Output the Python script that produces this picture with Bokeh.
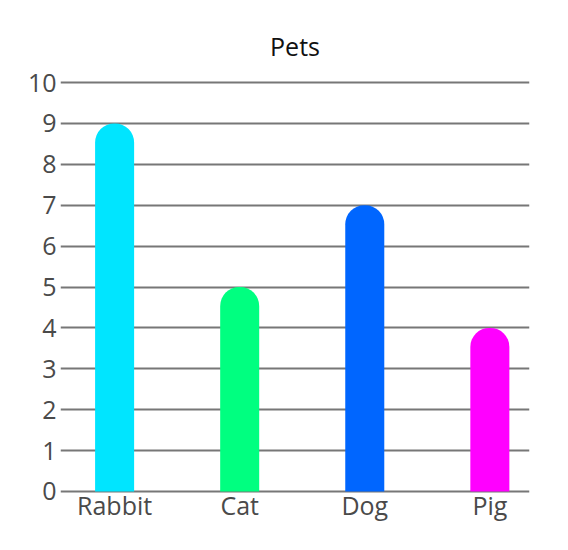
from bokeh.plotting import figure
from bokeh.models import Range1d, FixedTicker, ColumnDataSource
from bokeh.embed import file_html
from bokeh.resources import INLINE

pets = ["Rabbit", "Cat", "Dog", "Pig"]
counts = [9, 5, 7, 4]
colors = ["#00E5FF", "#00FF80", "#0066FF", "#FF00FF"]
y_ticks = [0, 1, 2, 3, 4, 5, 6, 7, 8, 9, 10]

xs = list(range(len(pets)))
src = ColumnDataSource(dict(x=xs, top=counts, color=colors, name=pets))

FONT = "Open Sans"
p = figure(width=552, height=534, output_backend="svg", toolbar_location=None,
           x_range=Range1d(-0.4326, 3.317), y_range=Range1d(-0.05, 10.05),
           min_border_left=60, min_border_right=23, min_border_top=80, min_border_bottom=41,
           title="Pets")
p.outline_line_color = None
p.background_fill_color = "white"
p.border_fill_color = "white"

p.title.align = "center"
p.title.text_font = FONT
p.title.text_font_size = "25px"
p.title.text_font_style = "normal"
p.title.text_color = "#111111"
p.title.standoff = 35

p.vbar(x="x", top="top", bottom=0, width=0.312, color="color", source=src,
       border_radius=(19, 19, 0, 0), line_color=None)

p.xgrid.grid_line_color = None
p.ygrid.ticker = FixedTicker(ticks=y_ticks)
p.ygrid.grid_line_color = "#777777"
p.ygrid.grid_line_width = 2
p.ygrid.level = "underlay"

p.yaxis.ticker = FixedTicker(ticks=y_ticks)
p.xaxis.ticker = FixedTicker(ticks=xs)
p.xaxis.major_label_overrides = {i: n for i, n in enumerate(pets)}

for ax in (p.xaxis[0], p.yaxis[0]):
    ax.axis_line_color = None
    ax.major_tick_line_color = None
    ax.minor_tick_line_color = None
    ax.major_tick_out = 0
    ax.major_tick_in = 0
    ax.major_label_text_font = FONT
    ax.major_label_text_font_size = "25px"
    ax.major_label_text_color = "#4a4a4a"
p.yaxis.major_label_standoff = 4
p.xaxis.major_label_standoff = -6

open("out.html", "w").write(file_html(p, INLINE))
